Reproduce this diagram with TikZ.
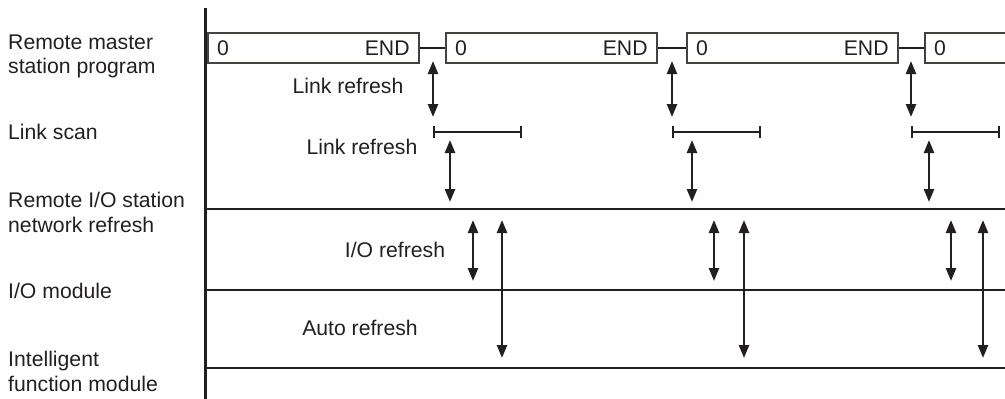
\documentclass[tikz,border=0pt]{standalone}
\usepackage{fontspec}
\setmainfont{Liberation Sans}
\usetikzlibrary{arrows.meta}
\definecolor{ink}{RGB}{35,31,32}
\begin{document}
\begin{tikzpicture}[x=1pt,y=-1pt,
  every node/.style={font=\fontsize{21.2}{25}\selectfont, inner sep=0pt, text=ink},
  progbox/.style={draw=ink!85, line width=1.8pt, minimum height=30pt, minimum width=211pt, anchor=north west},
  axisline/.style={draw=ink, line width=2.4pt},
  dbl/.style={draw=ink, line width=2.4pt, {Triangle[width=10pt,length=13pt]}-{Triangle[width=10pt,length=13pt]}},
  scanbar/.style={draw=ink, line width=2.4pt, {Bar[width=12pt]}-{Bar[width=12pt]}},
  lbl/.style={anchor=base west, align=left},
  mid/.style={anchor=base}
]
\useasboundingbox (0,0) rectangle (1005,399);

% axes and band lines
\draw[axisline] (205.5,8) -- (205.5,399);
\draw[axisline] (205.5,209) -- (1005,209);
\draw[axisline] (205.5,290) -- (1005,290);
\draw[axisline] (205.5,368) -- (1005,368);

% left labels
\node[lbl] (l1) at (8,49) {Remote master};
\node[lbl] (l1b) at (8,73) {station program};
\node[lbl] (l2) at (8,139) {Link scan};
\node[lbl] (l3) at (8,207) {Remote I/O station};
\node[lbl] (l3b) at (8,232) {network refresh};
\node[lbl] (l4) at (8,298) {I/O module};
\node[lbl] (l5) at (8,366) {Intelligent};
\node[lbl] (l5b) at (8,391) {function module};

% program boxes
\node[progbox] (b1) at (207,32) {};
\node[progbox] (b2) at (445,32) {};
\node[progbox] (b3) at (686,32) {};
\node[progbox] (b4) at (924,32) {};

\foreach \b in {b1,b2,b3} {
  \node[anchor=base west] at ([xshift=10pt,yshift=-7.5pt]\b.west) {0};
  \node[anchor=base east] at ([xshift=-10pt,yshift=-7.5pt]\b.east) {END};
}
\node[anchor=base west] (z4) at ([xshift=10pt,yshift=-7.5pt]b4.west) {0};

\draw[axisline] (b1.east) -- (b2.west);
\draw[axisline] (b2.east) -- (b3.west);
\draw[axisline] (b3.east) -- (b4.west);

% set 1
\coordinate (a1t) at (433,61); \coordinate (a1b) at (433,117);
\draw[dbl] (a1t) -- (a1b);
\coordinate (s1l) at (433,132); \coordinate (s1r) at (522,132);
\draw[scanbar] (s1l) -- (s1r);
\coordinate (c1t) at (450,140); \coordinate (c1b) at (450,202);
\draw[dbl] (c1t) -- (c1b);
\coordinate (d1t) at (473,220); \coordinate (d1b) at (473,281);
\draw[dbl] (d1t) -- (d1b);
\coordinate (e1t) at (502,220); \coordinate (e1b) at (502,358);
\draw[dbl] (e1t) -- (e1b);

% set 2
\coordinate (a2t) at (672,61); \coordinate (a2b) at (672,117);
\draw[dbl] (a2t) -- (a2b);
\coordinate (s2l) at (672,132); \coordinate (s2r) at (761,132);
\draw[scanbar] (s2l) -- (s2r);
\coordinate (c2t) at (692,140); \coordinate (c2b) at (692,202);
\draw[dbl] (c2t) -- (c2b);
\coordinate (d2t) at (714,220); \coordinate (d2b) at (714,281);
\draw[dbl] (d2t) -- (d2b);
\coordinate (e2t) at (744,220); \coordinate (e2b) at (744,358);
\draw[dbl] (e2t) -- (e2b);

% set 3
\coordinate (a3t) at (911,61); \coordinate (a3b) at (911,117);
\draw[dbl] (a3t) -- (a3b);
\coordinate (s3l) at (911,132); \coordinate (s3r) at (1000,132);
\draw[scanbar] (s3l) -- (s3r);
\coordinate (c3t) at (929,140); \coordinate (c3b) at (929,202);
\draw[dbl] (c3t) -- (c3b);
\coordinate (d3t) at (951,220); \coordinate (d3b) at (951,281);
\draw[dbl] (d3t) -- (d3b);
\coordinate (e3t) at (983,220); \coordinate (e3b) at (983,358);
\draw[dbl] (e3t) -- (e3b);

% annotations
\node[mid] (t1) at (348,93) {Link refresh};
\node[mid] (t2) at (362,154) {Link refresh};
\node[mid] (t3) at (395,257) {I/O refresh};
\node[mid] (t4) at (360,335) {Auto refresh};
\end{tikzpicture}
\end{document}
